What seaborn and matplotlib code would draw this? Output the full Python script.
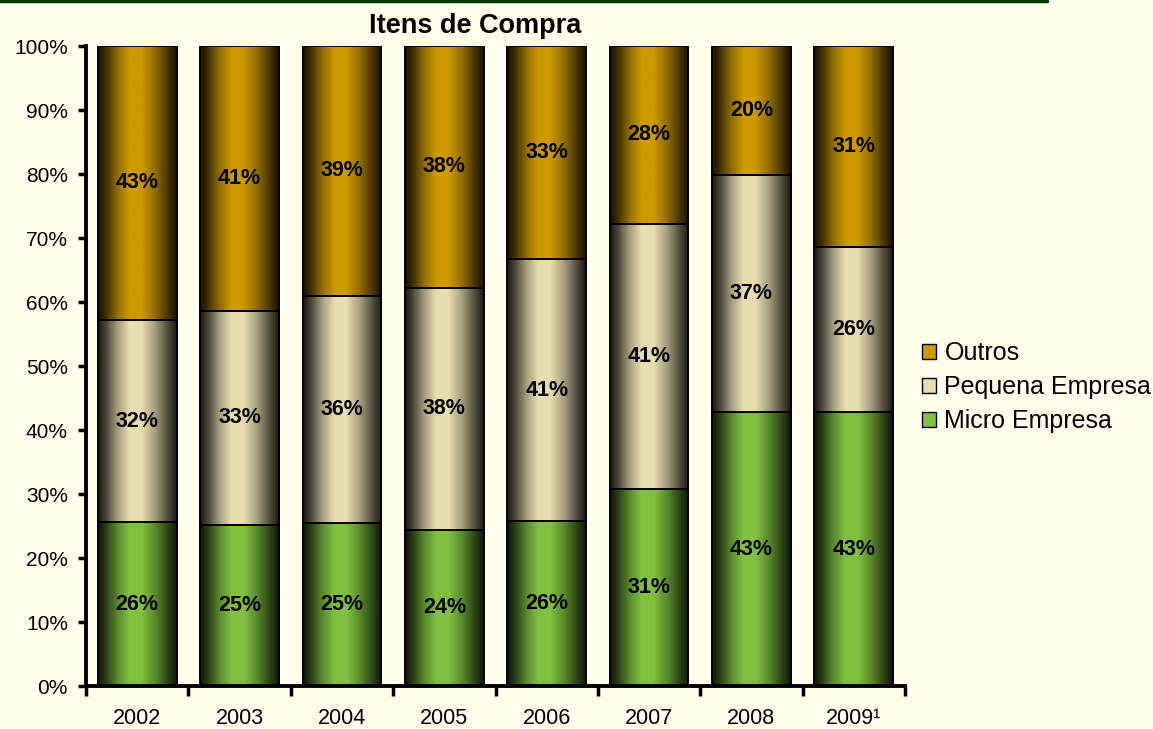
import numpy as np
import pandas as pd
import seaborn as sns
import matplotlib.pyplot as plt
from matplotlib.patches import Patch
from matplotlib.lines import Line2D
from matplotlib.ticker import FixedLocator

# ---------------- data ----------------
years = ["2002", "2003", "2004", "2005", "2006", "2007", "2008", "2009\u00b9"]
micro = [25.6, 25.2, 25.4, 24.4, 25.8, 30.8, 42.8, 42.8]
pequena = [31.6, 33.4, 35.6, 37.8, 40.9, 41.4, 37.0, 25.8]
outros = [42.8, 41.4, 39.0, 37.8, 33.3, 27.8, 20.2, 31.4]
series_names = ["Micro Empresa", "Pequena Empresa", "Outros"]
y_ticks = [0, 10, 20, 30, 40, 50, 60, 70, 80, 90, 100]
title = "Itens de Compra"

# ---------------- style ----------------
sns.set_style("white")
plt.rcParams['font.family'] = ['Liberation Sans', 'DejaVu Sans']
plt.rcParams['text.color'] = 'black'

bg = '#FFFFEC'
colors = {
    "Micro Empresa": (0.50, 0.76, 0.25),
    "Pequena Empresa": (0.91, 0.87, 0.69),
    "Outros": (0.80, 0.60, 0.00),
}

fig = plt.figure(figsize=(11.53, 7.29), dpi=100, facecolor=bg)
ax = fig.add_axes([86 / 1153, 1 - 686 / 729, (905 - 86) / 1153, 640 / 729])
ax.set_facecolor(bg)

# horizontal shading profile across each bar
t = np.linspace(0, 1, 200)
prof = np.interp(t, [0, 0.1, 0.25, 0.4, 0.55, 0.72, 0.88, 1.0],
                 [0.10, 0.32, 0.72, 1.0, 1.0, 0.72, 0.36, 0.12])

bottom = np.zeros(len(years))
for name, vals in zip(series_names, [micro, pequena, outros]):
    n0 = len(ax.patches)
    df = pd.DataFrame({"year": years, "value": vals})
    sns.barplot(data=df, x="year", y="value", order=years, color=colors[name],
                bottom=bottom, width=0.77, edgecolor='black', linewidth=1.4,
                saturation=1, errorbar=None, ax=ax, zorder=2)
    col = np.array(colors[name])
    grad = (prof[:, None] * col[None, :])[None, :, :]
    for p, v, b in zip(ax.patches[n0:], vals, bottom):
        x0, y0 = p.get_x(), p.get_y()
        w, h = p.get_width(), p.get_height()
        p.set_facecolor('none')
        ax.imshow(grad, extent=[x0, x0 + w, y0, y0 + h], aspect='auto',
                  interpolation='bilinear', zorder=1.5)
        ax.text(x0 + w / 2, b + v / 2, f"{round(v)}%", ha='center', va='center',
                fontsize=15.5, fontweight='bold', color='black', zorder=3)
    bottom = bottom + np.array(vals)

ax.set_xlim(-0.5, len(years) - 0.5)
ax.set_ylim(0, 100)
ax.set_aspect('auto')
ax.set_xlabel("")
ax.set_ylabel("")

ax.set_yticks(y_ticks)
ax.set_yticklabels([f"{v}%" for v in y_ticks])
ax.tick_params(axis='y', which='major', left=True, direction='out', length=6,
               width=2.5, pad=7, labelsize=15, colors='black')
ax.tick_params(axis='x', which='major', bottom=True, length=0, pad=16,
               labelsize=15.5, colors='black')
ax.xaxis.set_minor_locator(FixedLocator(np.arange(-0.5, len(years), 1.0)))
ax.tick_params(axis='x', which='minor', bottom=True, direction='out', length=7,
               width=2.5, color='black')

for s in ['top', 'right']:
    ax.spines[s].set_visible(False)
for s in ['left', 'bottom']:
    ax.spines[s].set_color('black')
    ax.spines[s].set_linewidth(2.8)
    ax.spines[s].set_zorder(4)

fig.text(475 / 1153, 1 - 26 / 729, title, ha='center', va='center',
         fontsize=19.5, fontweight='bold', color='black')

# top rule
fig.add_artist(Line2D([0, 1047 / 1153], [0.999, 0.999], color='#003300',
                      linewidth=2.5, transform=fig.transFigure))

handles = [Patch(facecolor=colors[n], edgecolor='black', linewidth=1.0)
           for n in ["Outros", "Pequena Empresa", "Micro Empresa"]]
fig.legend(handles, ["Outros", "Pequena Empresa", "Micro Empresa"],
           loc='center left', bbox_to_anchor=(912 / 1153, 1 - 387 / 729),
           frameon=False, fontsize=18, handlelength=0.55, handleheight=0.55,
           handletextpad=0.35, labelspacing=0.4, borderaxespad=0)

fig.savefig("out.png", dpi=100, facecolor=bg)
